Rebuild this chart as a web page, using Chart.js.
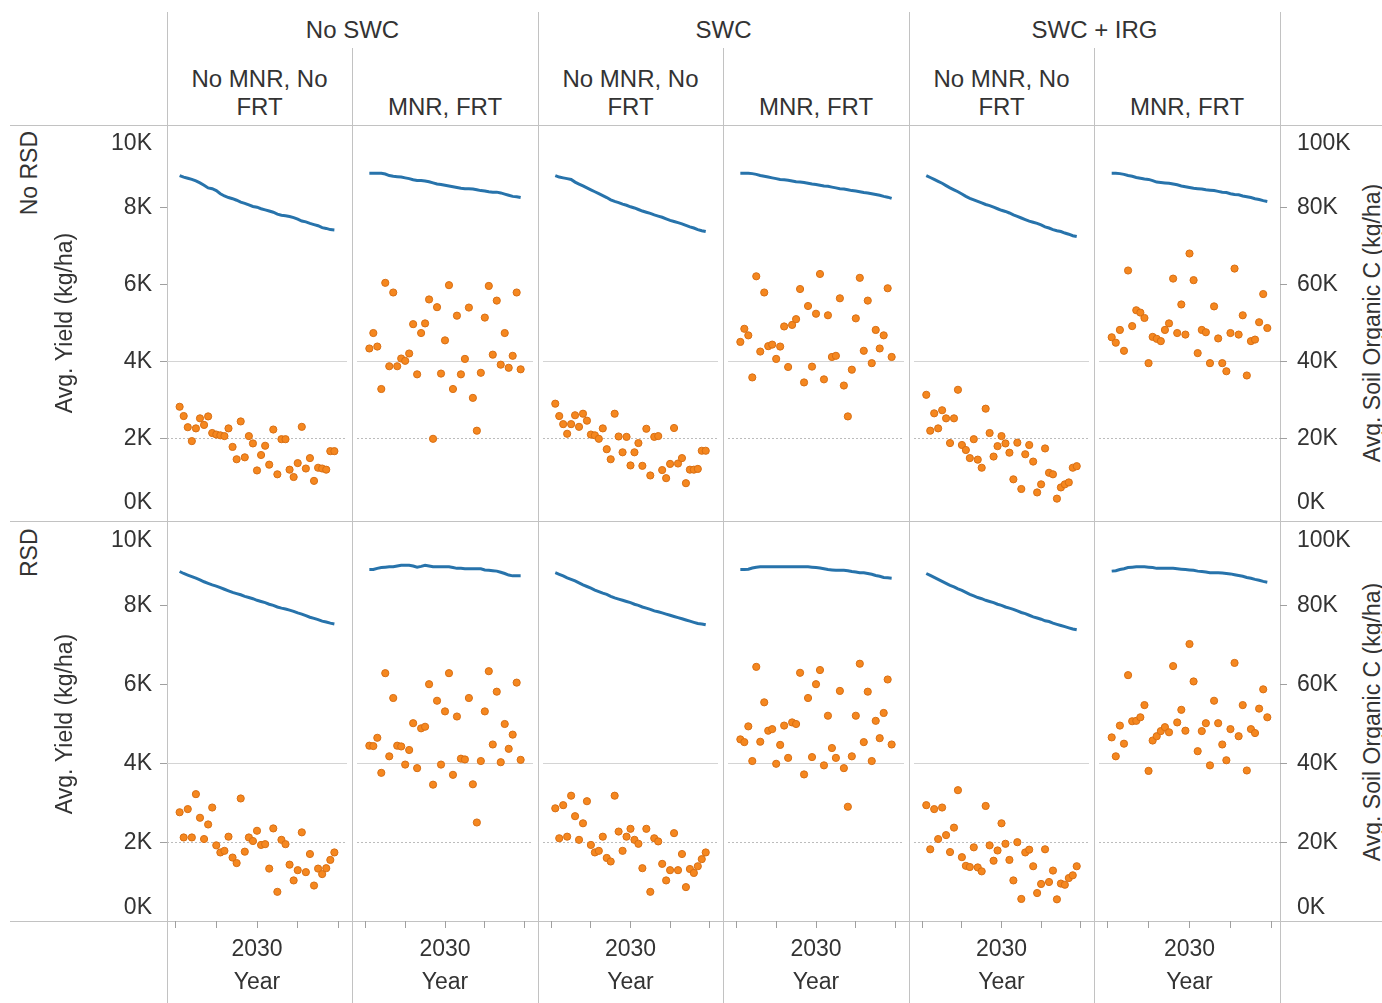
<!DOCTYPE html>
<html lang="en">
<head>
    <meta charset="UTF-8">
    <title>Avg. Yield and Soil Organic C</title>
    <script src="https://cdn.jsdelivr.net/npm/chart.js"></script>
    <style>
        body { margin: 0; background: #fff; }
        #wrap {
            position: relative; width: 1382px; height: 1003px; overflow: hidden;
            font-family: "Liberation Sans", Arial, sans-serif; color: #333;
        }
        .vl { position: absolute; width: 1px; background: #c2c2c2; }
        .hl { position: absolute; height: 1px; background: #c2c2c2; }
        .grp { position: absolute; top: 16px; height: 28px; line-height: 28px; font-size: 24px; text-align: center; }
        .sub {
            position: absolute; top: 48px; height: 73px; font-size: 24px; line-height: 28px;
            display: flex; flex-direction: column; justify-content: flex-end; text-align: center;
            box-sizing: border-box; padding: 0 6px 0 6px;
        }
        .rot {
            position: absolute; height: 30px; line-height: 30px; font-size: 23px;
            white-space: nowrap; transform: rotate(-90deg); box-sizing: border-box;
        }
        canvas { position: absolute; }
    </style>
</head>
<body>
<div id="wrap"></div>
<script>
    var years = [2011, 2012, 2013, 2014, 2015, 2016, 2017, 2018, 2019, 2020,
                 2021, 2022, 2023, 2024, 2025, 2026, 2027, 2028, 2029, 2030,
                 2031, 2032, 2033, 2034, 2035, 2036, 2037, 2038, 2039, 2040,
                 2041, 2042, 2043, 2044, 2045, 2046, 2047, 2048, 2049];

    var rowNames = ['No RSD', 'RSD'];
    var groupNames = ['No SWC', 'SWC', 'SWC + IRG'];
    var mgmtNames = ['No MNR, No FRT', 'MNR, FRT'];

    var yieldTicks = [0, 2000, 4000, 6000, 8000, 10000];
    var socTicks = [0, 20000, 40000, 60000, 80000, 100000];
    var yearTicks = [2010, 2020, 2030, 2040, 2050];

    // No RSD row
    var yieldNoRsdNoSwcNoMnr = [2830, 2590, 2300, 1940, 2270, 2530, 2360, 2580, 2150, 2110, 2090, 2070, 2270, 1790, 1470, 2450, 1520, 2070, 1880, 1180, 1580, 1820, 1330, 2240, 1080, 1990, 1990, 1200, 1010, 1370, 2310, 1230, 1500, 910, 1250, 1230, 1200, 1680, 1680];
    var socNoRsdNoSwcNoMnr = [88200, 87800, 87500, 87200, 86800, 86300, 85700, 85000, 84800, 84300, 83500, 82900, 82500, 82200, 81800, 81300, 81000, 80600, 80200, 80000, 79600, 79300, 79000, 78700, 78200, 77900, 77800, 77600, 77300, 76900, 76400, 76200, 75800, 75500, 75200, 74700, 74500, 74200, 74100];
    var yieldNoRsdNoSwcMnr = [4340, 4740, 4390, 3290, 6040, 3880, 5790, 3880, 4080, 4020, 4210, 4970, 3670, 4740, 4990, 5610, 2000, 5410, 3690, 4550, 5980, 3290, 5190, 3670, 4070, 5400, 3060, 2210, 3710, 5140, 5960, 4180, 5580, 3920, 4740, 3840, 4150, 5790, 3800];
    var socNoRsdNoSwcMnr = [88800, 88800, 88800, 88800, 88600, 88200, 88000, 87900, 87800, 87600, 87400, 87100, 86900, 86900, 86800, 86600, 86300, 86000, 85900, 85700, 85500, 85300, 85100, 84900, 84800, 84800, 84700, 84500, 84300, 84200, 84000, 83900, 83900, 83700, 83400, 83100, 82800, 82700, 82500];
    var yieldNoRsdSwcNoMnr = [2910, 2590, 2380, 2130, 2380, 2610, 2310, 2650, 2470, 2110, 2090, 2000, 2270, 1730, 1470, 2650, 2060, 1650, 2050, 1310, 1650, 1890, 1300, 2260, 1050, 2050, 2070, 1190, 980, 1350, 2280, 1360, 1500, 850, 1200, 1200, 1220, 1690, 1690];
    var socNoRsdSwcNoMnr = [88200, 87800, 87600, 87400, 87200, 86500, 86000, 85500, 85000, 84500, 84000, 83500, 83000, 82500, 81900, 81500, 81200, 80800, 80500, 80100, 79800, 79400, 79000, 78700, 78400, 78000, 77700, 77400, 77000, 76600, 76300, 76000, 75700, 75300, 74900, 74600, 74200, 73900, 73700];
    var yieldNoRsdSwcMnr = [4510, 4850, 4680, 3590, 6210, 4260, 5790, 4400, 4440, 4070, 4390, 4910, 3860, 4950, 5100, 5880, 3460, 5440, 3870, 5240, 6270, 3540, 5200, 4120, 4150, 5640, 3380, 2580, 3790, 5120, 6170, 4280, 5580, 3960, 4820, 4340, 4680, 5900, 4120];
    var socNoRsdSwcMnr = [88800, 88800, 88800, 88700, 88500, 88200, 88000, 87800, 87600, 87400, 87200, 87100, 87000, 86800, 86600, 86500, 86400, 86200, 86000, 85900, 85700, 85500, 85400, 85200, 85000, 84800, 84700, 84500, 84300, 84200, 84000, 83800, 83700, 83500, 83300, 83100, 82800, 82600, 82300];
    var yieldNoRsdIrgNoMnr = [3140, 2210, 2660, 2270, 2740, 2530, 1890, 2530, 3270, 1840, 1710, 1500, 1990, 1460, 1250, 2780, 2150, 1540, 1810, 2070, 1880, 1640, 950, 1900, 700, 1600, 1840, 1410, 610, 820, 1750, 1120, 1080, 450, 740, 820, 870, 1250, 1290];
    var socNoRsdIrgNoMnr = [88200, 87700, 87200, 86700, 86200, 85600, 85000, 84500, 84000, 83400, 82800, 82300, 81900, 81500, 81100, 80700, 80400, 80000, 79600, 79200, 78900, 78500, 78000, 77600, 77200, 76800, 76400, 76100, 75800, 75400, 74900, 74600, 74200, 73900, 73700, 73300, 73000, 72600, 72400];
    var yieldNoRsdIrgMnr = [4630, 4490, 4820, 4280, 6360, 4920, 5330, 5270, 5130, 3960, 4640, 4590, 4530, 4820, 4990, 6150, 4740, 5480, 4700, 6800, 6110, 4220, 4820, 4760, 3960, 5430, 4600, 3960, 3750, 4740, 6410, 4700, 5200, 3640, 4530, 4570, 5020, 5750, 4870];
    var socNoRsdIrgMnr = [88800, 88800, 88700, 88500, 88200, 88000, 87700, 87500, 87300, 87200, 86900, 86500, 86400, 86300, 86200, 86000, 85800, 85500, 85300, 85100, 84900, 84800, 84700, 84500, 84400, 84300, 84100, 83900, 83800, 83500, 83300, 83200, 82900, 82700, 82500, 82200, 82000, 81700, 81500];

    // RSD row
    var yieldRsdNoSwcNoMnr = [2760, 2120, 2840, 2120, 3220, 2620, 2080, 2450, 2880, 1920, 1740, 1780, 2140, 1610, 1470, 3110, 1760, 2120, 2030, 2290, 1930, 1950, 1330, 2350, 740, 2060, 1950, 1430, 1030, 1290, 2250, 1240, 1700, 900, 1330, 1190, 1340, 1550, 1740];
    var socRsdNoSwcNoMnr = [88700, 88200, 87800, 87400, 87000, 86600, 86100, 85700, 85300, 85000, 84600, 84200, 83800, 83400, 83100, 82800, 82400, 82100, 81800, 81400, 81100, 80800, 80400, 80100, 79700, 79400, 79200, 78900, 78600, 78200, 77900, 77500, 77100, 76800, 76500, 76100, 75900, 75600, 75400];
    var yieldRsdNoSwcMnr = [4450, 4440, 4650, 3760, 6290, 4180, 5660, 4450, 4430, 3970, 4340, 5020, 3880, 4890, 4930, 6010, 3460, 5590, 3970, 5320, 6290, 3710, 5190, 4120, 4100, 5660, 3470, 2500, 4060, 5320, 6340, 4480, 5820, 4030, 5000, 4370, 4730, 6050, 4090];
    var socRsdNoSwcMnr = [89200, 89200, 89500, 89700, 89800, 89900, 89900, 90100, 90300, 90300, 90300, 90100, 89800, 90000, 90300, 90100, 89900, 89900, 89900, 89900, 89900, 89700, 89500, 89500, 89400, 89400, 89400, 89400, 89400, 89100, 89000, 88900, 88800, 88500, 88200, 87800, 87600, 87600, 87600];
    var yieldRsdSwcNoMnr = [2860, 2100, 2940, 2140, 3180, 2660, 2060, 2480, 3040, 1930, 1740, 1780, 2140, 1600, 1510, 3180, 2270, 1780, 2140, 2340, 2060, 1960, 1340, 2340, 740, 2100, 2020, 1450, 1030, 1290, 2230, 1290, 1700, 860, 1320, 1220, 1390, 1570, 1740];
    var socRsdSwcNoMnr = [88400, 88000, 87600, 87100, 86700, 86300, 85800, 85300, 84900, 84500, 84000, 83600, 83200, 82900, 82400, 82000, 81700, 81400, 81100, 80800, 80400, 80100, 79700, 79400, 79100, 78700, 78500, 78200, 77900, 77600, 77300, 77000, 76700, 76400, 76100, 75800, 75500, 75400, 75200];
    var yieldRsdSwcMnr = [4610, 4540, 4940, 4060, 6450, 4550, 5550, 4830, 4870, 3990, 4470, 4960, 4140, 5040, 5000, 6300, 3720, 5660, 4160, 6010, 6370, 3950, 5210, 4390, 4140, 5840, 3880, 2900, 4180, 5210, 6530, 4540, 5820, 4060, 5080, 4640, 5280, 6130, 4480];
    var socRsdSwcMnr = [89200, 89200, 89300, 89600, 89800, 89900, 89900, 89900, 89900, 89900, 89900, 89900, 89900, 89900, 89900, 89900, 89900, 89900, 89800, 89700, 89600, 89400, 89200, 89100, 89000, 89000, 89000, 88900, 88700, 88600, 88400, 88400, 88200, 88000, 87700, 87500, 87200, 87100, 87000];
    var yieldRsdIrgNoMnr = [2940, 1820, 2840, 2080, 2880, 2180, 1750, 2370, 3320, 1620, 1400, 1370, 1870, 1360, 1260, 2920, 1920, 1530, 1790, 2480, 1960, 1550, 1030, 2000, 560, 1740, 1810, 1390, 710, 940, 1820, 990, 1280, 550, 950, 920, 1090, 1160, 1390];
    var socRsdIrgNoMnr = [88200, 87700, 87200, 86700, 86200, 85700, 85200, 84800, 84300, 83900, 83400, 82900, 82500, 82100, 81800, 81400, 81100, 80800, 80400, 80100, 79700, 79400, 79100, 78700, 78300, 78000, 77600, 77200, 76900, 76600, 76200, 76000, 75600, 75300, 75000, 74700, 74400, 74100, 73900];
    var yieldRsdIrgMnr = [4660, 4180, 4960, 4500, 6240, 5070, 5080, 5170, 5480, 3810, 4580, 4690, 4820, 4920, 4790, 6470, 5040, 5360, 4830, 7030, 6080, 4310, 4820, 5020, 3950, 5590, 5020, 4480, 4080, 4870, 6550, 4690, 5480, 3820, 4870, 4770, 5390, 5880, 5170];
    var socRsdIrgMnr = [88800, 88900, 89200, 89400, 89700, 89800, 89900, 89900, 89900, 89800, 89700, 89500, 89500, 89500, 89500, 89500, 89400, 89300, 89200, 89100, 89000, 88800, 88700, 88600, 88400, 88400, 88400, 88300, 88200, 88100, 87900, 87700, 87500, 87200, 87000, 86700, 86500, 86200, 86000];

    var panels = [
        [yieldNoRsdNoSwcNoMnr, socNoRsdNoSwcNoMnr], [yieldNoRsdNoSwcMnr, socNoRsdNoSwcMnr],
        [yieldNoRsdSwcNoMnr, socNoRsdSwcNoMnr], [yieldNoRsdSwcMnr, socNoRsdSwcMnr],
        [yieldNoRsdIrgNoMnr, socNoRsdIrgNoMnr], [yieldNoRsdIrgMnr, socNoRsdIrgMnr],
        [yieldRsdNoSwcNoMnr, socRsdNoSwcNoMnr], [yieldRsdNoSwcMnr, socRsdNoSwcMnr],
        [yieldRsdSwcNoMnr, socRsdSwcNoMnr], [yieldRsdSwcMnr, socRsdSwcMnr],
        [yieldRsdIrgNoMnr, socRsdIrgNoMnr], [yieldRsdIrgMnr, socRsdIrgMnr]
    ];

    var W = 1382, H = 1003;
    var colX = [167, 352, 538, 723, 909, 1094, 1280];
    var rowTop = [125, 522];
    var rowBottom = [521, 921];
    var lineBlue = '#2773ab';
    var dotOrange = '#f5871f';
    var dotEdge = '#d86f14';
    var clear = 'rgba(0,0,0,0)';

    Chart.defaults.font.family = '"Liberation Sans", Arial, sans-serif';
    Chart.defaults.font.size = 23;
    Chart.defaults.color = '#333';

    var wrap = document.getElementById('wrap');

    function addDiv(cls, css, text) {
        var d = document.createElement('div');
        d.className = cls;
        for (var k in css) d.style[k] = css[k];
        if (text) d.textContent = text;
        wrap.appendChild(d);
        return d;
    }

    // panel borders
    [167, 538, 909, 1280].forEach(function (x) {
        addDiv('vl', { left: x + 'px', top: '12px', height: (H - 12) + 'px' });
    });
    [352, 723, 1094].forEach(function (x) {
        addDiv('vl', { left: x + 'px', top: '48px', height: (H - 48) + 'px' });
    });
    [125, 521, 921].forEach(function (y) {
        addDiv('hl', { left: '10px', top: y + 'px', width: (W - 10) + 'px' });
    });

    // headers
    groupNames.forEach(function (g, i) {
        addDiv('grp', { left: colX[2 * i] + 'px', width: (colX[2 * i + 2] - colX[2 * i]) + 'px' }, g);
    });
    for (var c = 0; c < 6; c++) {
        var s = addDiv('sub', { left: colX[c] + 'px', width: (colX[c + 1] - colX[c]) + 'px' });
        var inner = document.createElement('div');
        inner.textContent = mgmtNames[c % 2];
        s.appendChild(inner);
    }

    // row labels and right axis titles
    rowNames.forEach(function (name, r) {
        var h = rowBottom[r] - rowTop[r];
        var cy = (rowTop[r] + rowBottom[r]) / 2;
        addDiv('rot', { left: (28.5 - h / 2) + 'px', top: (cy - 15) + 'px', width: h + 'px',
                        textAlign: 'right', paddingRight: '6px' }, name);
        addDiv('rot', { left: (1372 - 200) + 'px', top: (cy - 15) + 'px', width: '400px',
                        textAlign: 'center' }, 'Avg. Soil Organic C (kg/ha)');
    });

    function kLabel(v, top) {
        var s = (v / 1000) + 'K';
        if (v === top) return ['', s];
        if (v === 0) return [s, ''];
        return s;
    }

    function pts(vals) {
        return years.map(function (yr, i) { return { x: yr, y: vals[i] }; });
    }

    function makePanel(r, c) {
        var firstCol = c === 0, lastCol = c === 5, bottomRow = r === 1;
        var left = firstCol ? 0 : colX[c];
        var right = lastCol ? W : colX[c + 1];
        var top = rowTop[r];
        var bottom = bottomRow ? H : rowBottom[r];
        var cv = document.createElement('canvas');
        cv.width = right - left;
        cv.height = bottom - top;
        cv.style.left = left + 'px';
        cv.style.top = top + 'px';
        wrap.appendChild(cv);
        var p = panels[r * 6 + c];

        new Chart(cv, {
            type: 'scatter',
            data: {
                datasets: [{
                    data: pts(p[1]),
                    yAxisID: 'y2',
                    showLine: true,
                    borderColor: lineBlue,
                    borderWidth: 3,
                    pointRadius: 0
                }, {
                    data: pts(p[0]),
                    yAxisID: 'y',
                    backgroundColor: dotOrange,
                    borderColor: dotEdge,
                    borderWidth: 1,
                    pointRadius: 3.6
                }]
            },
            options: {
                responsive: false,
                animation: false,
                devicePixelRatio: 1,
                layout: { padding: 0 },
                plugins: { legend: { display: false }, tooltip: { enabled: false } },
                scales: {
                    x: {
                        type: 'linear', min: 2007.9, max: 2052.1, display: bottomRow,
                        afterBuildTicks: function (s) { s.ticks = yearTicks.map(function (v) { return { value: v }; }); },
                        ticks: {
                            autoSkip: false, maxRotation: 0, padding: 8,
                            callback: function (v) { return v === 2030 ? '2030' : ''; }
                        },
                        grid: { drawOnChartArea: false, tickLength: 7, tickColor: '#a0a0a0' },
                        border: { display: false },
                        title: { display: true, text: 'Year', padding: { top: 0, bottom: 7 } },
                        afterFit: function (s) {
                            s.height = bottomRow ? 82 : 0;
                            s.paddingLeft = 0; s.paddingRight = 0;
                        }
                    },
                    y: {
                        type: 'linear', position: 'left', min: 0, max: 10000,
                        afterBuildTicks: function (s) { s.ticks = yieldTicks.map(function (v) { return { value: v }; }); },
                        ticks: {
                            display: firstCol, padding: 8,
                            callback: function (v) { return kLabel(v, 10000); }
                        },
                        grid: {
                            drawTicks: firstCol, tickLength: 7,
                            color: function (ctx) { return ctx.tick && ctx.tick.value === 4000 ? '#d4d4d4' : clear; },
                            tickColor: function (ctx) {
                                return ctx.tick && ctx.tick.value > 0 && ctx.tick.value < 10000 ? '#a0a0a0' : clear;
                            }
                        },
                        border: { display: false },
                        title: { display: firstCol, text: 'Avg. Yield (kg/ha)', padding: { top: 52, bottom: 0 } },
                        afterFit: function (s) { s.width = firstCol ? 167 : 0; s.paddingTop = 0; s.paddingBottom = 0; }
                    },
                    y2: {
                        type: 'linear', position: 'right', min: 0, max: 100000,
                        afterBuildTicks: function (s) { s.ticks = socTicks.map(function (v) { return { value: v }; }); },
                        ticks: {
                            display: lastCol, padding: 10,
                            callback: function (v) { return kLabel(v, 100000); }
                        },
                        grid: {
                            drawTicks: lastCol, tickLength: 7,
                            color: function (ctx) { return ctx.tick && ctx.tick.value === 20000 ? '#bcbcbc' : clear; },
                            tickColor: function (ctx) {
                                return ctx.tick && ctx.tick.value > 0 && ctx.tick.value < 100000 ? '#a0a0a0' : clear;
                            }
                        },
                        border: { display: false, dash: [2, 2] },
                        afterFit: function (s) { s.width = lastCol ? 102 : 0; s.paddingTop = 0; s.paddingBottom = 0; }
                    }
                }
            }
        });
    }

    for (var r = 0; r < 2; r++) {
        for (var cc = 0; cc < 6; cc++) makePanel(r, cc);
    }
</script>
</body>
</html>
